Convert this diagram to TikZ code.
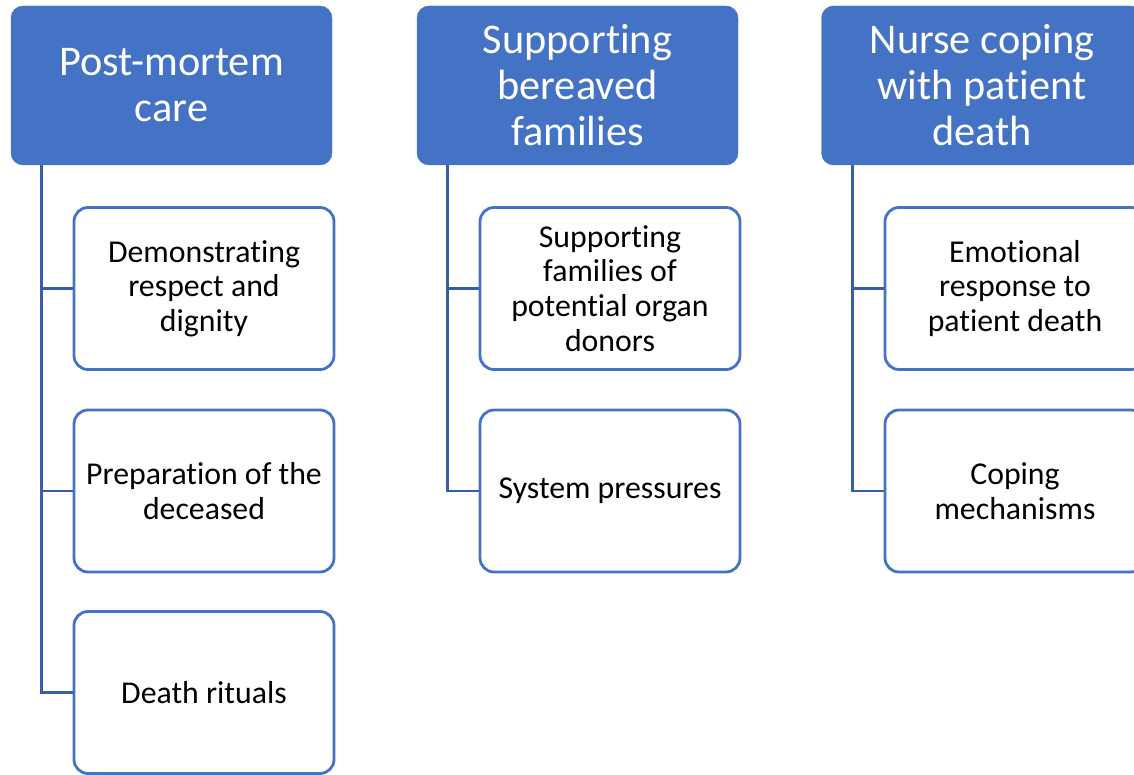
\documentclass[tikz,border=0pt]{standalone}
\usepackage{fontspec}
\setmainfont[Ligatures=NoCommon]{Carlito}
\usepackage{tikz}
\usepackage{xcolor}

\definecolor{themeblue}{HTML}{4472C4}
\definecolor{linkblue}{HTML}{3A5DA8}

\begin{document}
\begin{tikzpicture}[
    x=1pt, y=1pt,
    theme/.style={fill=themeblue, draw=themeblue, rounded corners=12pt,
        minimum width=321pt, minimum height=159pt, inner sep=0pt,
        align=center, text=white, font=\fontsize{42.3}{46}\selectfont},
    subtheme/.style={fill=white, draw=themeblue, line width=2.8pt, rounded corners=14pt,
        minimum width=260pt, minimum height=162pt, inner sep=0pt,
        align=center, text=black, font=\fontsize{31.8}{34.7}\selectfont},
    link/.style={draw=linkblue, line width=2.8pt}
]
    \useasboundingbox (0,0) rectangle (1134,774);

    % Themes
    \node[theme] (pm) at (171.5,688.5) {Post-mortem\\care};
    \node[theme] (bf) at (577.5,688.5) {Supporting\\bereaved\\families};
    \node[theme] (nc) at (982,688.5) {Nurse coping\\with patient\\death};

    % Sub-themes: post-mortem care
    \node[subtheme] (pm1) at (204,485.5) {Demonstrating\\respect and\\dignity};
    \node[subtheme] (pm2) at (204,283) {Preparation of the\\deceased};
    \node[subtheme] (pm3) at (204,81.5) {Death rituals};

    % Sub-themes: bereaved families
    \node[subtheme] (bf1) at (610,485.5) {Supporting\\families of\\potential organ\\donors};
    \node[subtheme] (bf2) at (610,283) {System pressures};

    % Sub-themes: nurse coping
    \node[subtheme] (nc1) at (1015,485.5) {Emotional\\response to\\patient death};
    \node[subtheme] (nc2) at (1015,283) {Coping\\mechanisms};

    % Links
    \draw[link] ([xshift=31pt]pm.south west) |- (pm3.west);
    \draw[link] ([xshift=31pt]pm.south west) |- (pm1.west);
    \draw[link] ([xshift=31pt]pm.south west) |- (pm2.west);
    \draw[link] ([xshift=31pt]bf.south west) |- (bf2.west);
    \draw[link] ([xshift=31pt]bf.south west) |- (bf1.west);
    \draw[link] ([xshift=31pt]nc.south west) |- (nc2.west);
    \draw[link] ([xshift=31pt]nc.south west) |- (nc1.west);
\end{tikzpicture}
\end{document}
